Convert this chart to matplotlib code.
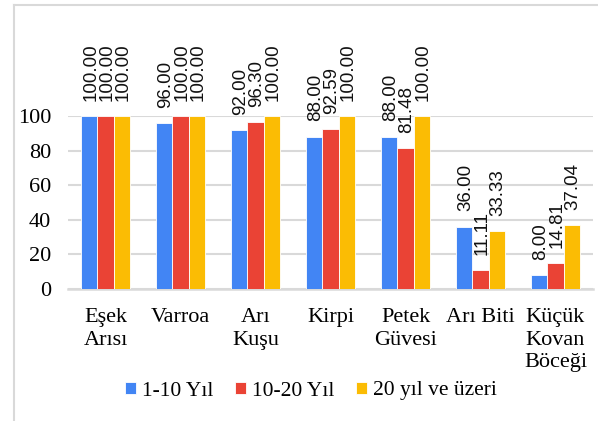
import matplotlib
matplotlib.use("Agg")
import matplotlib.pyplot as plt
from matplotlib.lines import Line2D
import numpy as np

categories = ["Eşek\nArısı", "Varroa", "Arı\nKuşu", "Kirpi", "Petek\nGüvesi", "Arı Biti", "Küçük\nKovan\nBöceği"]
yil_1_10 = [100.00, 96.00, 92.00, 88.00, 88.00, 36.00, 8.00]
yil_10_20 = [100.00, 100.00, 96.30, 92.59, 81.48, 11.11, 14.81]
yil_20_plus = [100.00, 100.00, 100.00, 100.00, 100.00, 33.33, 37.04]
series_names = ["1-10 Yıl", "10-20 Yıl", "20 yıl ve üzeri"]
colors = ["#4285F4", "#EA4335", "#FBBC04"]

serif = ["Liberation Serif", "DejaVu Serif"]
sans = ["Liberation Sans", "DejaVu Sans"]

fig = plt.figure(figsize=(5.98, 4.21), dpi=100)
ax = fig.add_axes([68 / 598, 1 - 289 / 421, 525 / 598, 173 / 421])

x = np.arange(len(categories))
w = 0.215
all_series = [yil_1_10, yil_10_20, yil_20_plus]
for i, vals in enumerate(all_series):
    pos = x + (i - 1) * w
    ax.bar(pos, vals, width=w, color=colors[i], edgecolor="white", linewidth=0.6,
           label=series_names[i], zorder=3)
    for xp, v in zip(pos, vals):
        ax.annotate(f"{v:.2f}", (xp, v), xytext=(1, 11), textcoords="offset points",
                    rotation=90, ha="center", va="bottom", fontsize=13.5,
                    family=sans, color="#111111", annotation_clip=False)

ax.set_xlim(-0.5, len(categories) - 0.5)
ax.set_ylim(0, 100)
ax.set_yticks([0, 20, 40, 60, 80, 100])
ax.set_xticks(x)
ax.set_xticklabels(categories, family=serif, fontsize=16, linespacing=1.25)
for lab in ax.get_yticklabels():
    lab.set_family(serif)
    lab.set_fontsize(16)
ax.tick_params(length=0, pad=12)
ax.tick_params(axis="x", pad=14)
ax.grid(axis="y", color="#d9d9d9", linewidth=1.5, zorder=0)
for s in ["top", "right", "left"]:
    ax.spines[s].set_visible(False)
ax.spines["bottom"].set_color("#d9d9d9")
ax.spines["bottom"].set_linewidth(1.8)

leg = fig.legend(loc="center", bbox_to_anchor=(0.52, 1 - 391 / 421), ncol=3, frameon=False,
                 prop={"family": serif, "size": 15.5}, handlelength=0.5, handleheight=0.5,
                 handletextpad=0.3, columnspacing=1.0)

# outer chart border (partly cut off in the original)
fig.add_artist(Line2D([14 / 598, 14 / 598], [0, 1 - 5 / 421], color="#d9d9d9", linewidth=1.5))
fig.add_artist(Line2D([14 / 598, 1], [1 - 5 / 421, 1 - 5 / 421], color="#d9d9d9", linewidth=1.5))

fig.savefig("out.png", dpi=100)
